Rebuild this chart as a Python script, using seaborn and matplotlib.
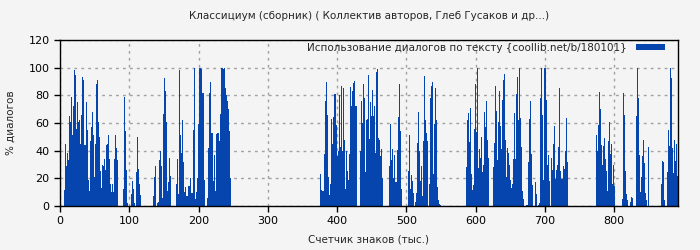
import numpy as np
import pandas as pd
import matplotlib
matplotlib.use("Agg")
import matplotlib.pyplot as plt
import seaborn as sns

title = "Классициум (сборник) ( Коллектив авторов, Глеб Гусаков и др...)"
xlabel = "Счетчик знаков (тыс.)"
ylabel = "% диалогов"
legend_label = "Использование диалогов по тексту {coollib.net/b/180101}"

step = 1.445  # thousand chars per sample

seg1_start = 7.2
seg1 = [11.5, 45, 29, 38, 33, 65, 61, 79, 51, 72, 98, 95, 56, 75, 61, 62, 45, 66, 93, 91,
        44, 75, 55, 19, 11, 47, 57, 68, 51, 21, 45, 88, 91, 61, 50, 25, 13, 30, 29, 34,
        26, 44, 45, 51, 34, 16, 10, 16, 10, 34, 51, 42, 33, 0, 0, 0, 0, 0, 12.5, 79,
        54, 26, 2.4, 0, 0, 0, 9, 18, 12.5, 2, 0, 24.5, 50, 27, 16, 8]

seg2_start = 135.7
seg2 = [7, 21, 29, 0, 2.4, 3, 33, 40, 29, 6, 66.5, 92.5, 83, 61, 10.6, 17, 35, 22, 0, 0,
        0, 0, 0, 16, 34, 9, 98, 51, 38, 62, 32, 10, 14, 7, 7, 14.5, 14.5, 20, 9.6, 55,
        100, 5, 10, 20, 59, 100, 100, 99, 82, 82, 19, 0, 0, 6, 42, 82, 90, 53, 53, 18,
        37, 10.6, 52, 53, 53, 47, 66.5, 100, 100, 99, 100, 85, 80, 76, 70, 54, 20]

seg3_start = 375.5
seg3 = [23, 11.5, 11, 10.6, 37.6, 76, 90, 66, 21, 8, 16, 63, 45, 64, 81, 81, 58.5, 36, 40, 80.5,
        43, 87, 40, 85, 48, 12.5, 40, 25.5, 19, 37.6, 86, 72, 83, 89, 90.6, 72, 72, 0, 0, 0,
        40, 76, 60, 88, 78, 24.6, 62, 63, 94.5, 48.7, 75, 65, 84, 65, 72, 38.5, 97, 99, 49, 47.7,
        36, 41, 20, 0, 0, 0, 0, 0, 0, 29, 59, 33, 41.5, 20, 36.6, 17, 17, 40.5, 64.6, 88,
        54, 12, 0, 0, 0, 0, 0, 0, 25.5, 51, 12.5, 22.6, 18, 9.6, 0, 3, 9.6, 45.8, 68, 40,
        17.8, 29, 7, 47, 94, 62, 52.5, 47, 0, 16, 78, 87, 90, 23, 59, 85, 62, 14, 4, 1.5, 0.5]

seg4_start = 586.3
seg4 = [28.4, 62, 67.5, 46, 71, 23, 11.5, 15.4, 56, 88, 53.5, 100, 27.5, 41, 35, 49.6, 24.6, 30, 68, 57,
        75.7, 47.7, 35, 0, 0, 0, 0, 28.4, 45.8, 86.7, 69, 33, 60.7, 83, 58, 41.4, 76.6, 91, 95.4, 47.7,
        21, 42, 38.5, 30, 19, 13, 16, 34, 67.5, 34, 81, 93.5, 62, 100, 63.6, 42.4, 11, 4.8, 0, 0,
        0.5, 1, 31.8, 62.6, 76, 37.6, 15, 0, 0, 17, 8.7, 0, 0.5, 2.4, 78, 100, 66, 19, 100, 100,
        76.6, 30, 36.6, 18, 0, 34.7, 26, 44.8, 57.8, 19.8, 26, 29.4, 42.4, 85, 25, 19.8, 19.8, 29, 27, 40,
        63.6, 31.8]

seg5_start = 774.0
seg5 = [51, 40, 58.8, 82.4, 69.9, 44.3, 30, 43.4, 49, 34, 25.5, 11, 46.7, 61, 37.6, 45, 16, 30, 14.5, 0,
        0, 0, 0, 0, 0, 0, 5.3, 81.4, 65.5, 25, 8.7, 4.3, 0, 0, 3, 6.7, 5.8, 0, 0, 0,
        65, 100, 78, 36.6, 10, 20.7, 36, 47.7, 30.8, 9.6, 4.3, 0, 42.4]

seg6_start = 867.9
seg6 = [16, 32.8, 31.8, 4.3, 0, 0, 24.6, 55, 43.4, 100, 92.5, 42, 23.6, 47.7, 32.8, 44.8, 22, 22]

segments = [(seg1_start, seg1), (seg2_start, seg2), (seg3_start, seg3),
            (seg4_start, seg4), (seg5_start, seg5), (seg6_start, seg6)]

xs, ys = [], []
for start, vals in segments:
    for i, v in enumerate(vals):
        xs.append(round(start + i * step, 3))
        ys.append(v)
df = pd.DataFrame({"x": xs, "y": ys})

bg = "#f4f4f4"
bar_color = "#0645ad"

sns.set_theme(style="ticks")
plt.rcParams["font.family"] = ["DejaVu Sans"]

fig = plt.figure(figsize=(7, 2.5), dpi=100, facecolor=bg)
ax = fig.add_axes([60 / 700, 1 - 206 / 250, 618 / 700, 166 / 250])
ax.set_facecolor(bg)

sns.barplot(data=df, x="x", y="y", native_scale=True, width=1.0, color=bar_color,
            saturation=1.0, errorbar=None, linewidth=0, edgecolor="none", ax=ax,
            label=legend_label)
for p in ax.patches:
    p.set_antialiased(False)

ax.set_xlim(0, 892.4)
ax.set_ylim(0, 120)
ax.set_xticks(np.arange(0, 900, 100))
ax.set_yticks(np.arange(0, 121, 20))
ax.grid(True, color="#a0a0a0", linestyle=(0, (2, 3)), linewidth=1)
ax.set_axisbelow(True)
for s in ax.spines.values():
    s.set_visible(True)
    s.set_color("black")
    s.set_linewidth(1)
ax.tick_params(axis="both", labelsize=8, direction="out", length=4, width=1, colors="black")

ax.set_title(title, fontsize=7.5, pad=15)
ax.set_xlabel(xlabel, fontsize=7.5, labelpad=6)
ax.set_ylabel(ylabel, fontsize=7.5, labelpad=9)

leg = ax.legend(loc="upper right", bbox_to_anchor=(0.994, 1.04), frameon=False, fontsize=7.5,
                markerfirst=False, handlelength=2.8, handleheight=0.6, handletextpad=0.9)

fig.savefig("out.png", dpi=100, facecolor=bg)
